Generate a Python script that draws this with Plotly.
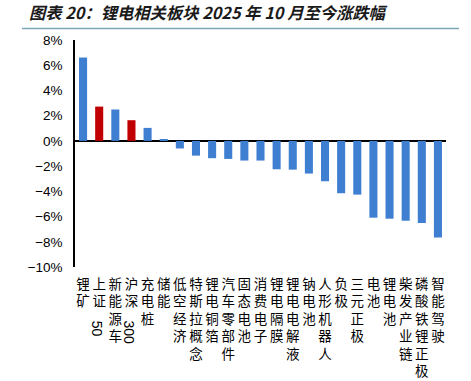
import plotly.graph_objects as go

categories = ["锂矿", "上证50", "新能源车", "沪深300", "充电桩", "储能", "低空经济",
              "特斯拉概念", "锂电铜箔", "汽车零部件", "固态电池", "消费电子", "锂电隔膜",
              "锂电电解液", "钠电池", "人形机器人", "负极", "三元正极", "电池", "锂电池",
              "柴发产业链", "磷酸铁锂正极", "智能驾驶"]
values = [6.61, 2.72, 2.49, 1.64, 1.03, 0.13, -0.60, -1.17, -1.37, -1.43, -1.56, -1.56,
          -2.25, -2.28, -2.59, -3.20, -4.15, -4.26, -6.09, -6.17, -6.33, -6.51, -7.67]
index_names = ["上证50", "沪深300"]
tick_vals = [8, 6, 4, 2, 0, -2, -4, -6, -8, -10]

BLUE = "#3F7FD1"
RED = "#C00000"
colors = [RED if c in index_names else BLUE for c in categories]


def vertical(label):
    # stack characters vertically; trailing digits are drawn rotated separately
    chars = label.rstrip("0123456789")
    return "<br>".join(list(chars))


tick_text = [vertical(c) for c in categories]
tick_lab = [("−" if v < 0 else "") + f"{abs(v)}%" for v in tick_vals]

fig = go.Figure()
fig.add_trace(go.Bar(
    x=categories, y=values,
    marker=dict(color=colors, line=dict(width=0)),
    width=0.5,
    showlegend=False,
))

CJK = "Noto Sans CJK SC"
PLOT_TOP, PLOT_BOTTOM = 40, 267
PH = PLOT_BOTTOM - PLOT_TOP
annotations = []
for c in categories:
    digits = c[len(c.rstrip("0123456789")):]
    if digits:
        annotations.append(dict(
            x=c, xref="x", xshift=-2, y=(PLOT_BOTTOM - 319) / PH, yref="paper",
            text=digits, textangle=90, showarrow=False, xanchor="center", yanchor="top",
            font=dict(family="Liberation Sans, Arial", size=14, color="#000000"),
        ))

fig.update_layout(
    template="none",
    width=471, height=381,
    margin=dict(l=75, r=25, t=PLOT_TOP, b=381 - PLOT_BOTTOM, autoexpand=False),
    paper_bgcolor="white", plot_bgcolor="white",
    title=dict(
        text="<b>图表 20：锂电相关板块 2025 年 10 月至今涨跌幅</b>",
        x=29 / 471, xanchor="left", xref="container", y=1 - 13 / 381, yanchor="middle",
        yref="container",
        font=dict(family=CJK, size=16.3, color="#1a1a1a", style="italic"),
    ),
    xaxis=dict(
        tickmode="array", tickvals=categories, ticktext=tick_text,
        tickangle=0, showline=False, showgrid=False, zeroline=False, ticks="",
        tickfont=dict(family=CJK, size=13.5, color="#000000"),
        ticklabelstandoff=7, automargin=False,
        fixedrange=True,
    ),
    yaxis=dict(
        range=[-10, 8], tickmode="array", tickvals=tick_vals, ticktext=tick_lab,
        showgrid=False, zeroline=True, zerolinecolor="#000000", zerolinewidth=1.5,
        showline=True, linecolor="#000000", linewidth=1.5, ticks="",
        tickfont=dict(family="Liberation Sans, Arial", size=13.5, color="#000000"),
        ticklabelstandoff=8, automargin=False,
        fixedrange=True,
    ),
    annotations=annotations,
    shapes=[dict(type="line", xref="paper", yref="paper",
                 x0=(22 - 75) / 371, x1=(459 - 75) / 371,
                 y0=1 + (PLOT_TOP - 28.5) / PH, y1=1 + (PLOT_TOP - 28.5) / PH,
                 line=dict(color="#7BA7B5", width=1.5))],
    bargap=0.5,
)

fig.write_html(
    "out.html",
    config={"displayModeBar": False},
    post_script="document.body.style.margin='0';document.body.style.overflow='hidden';",
)
